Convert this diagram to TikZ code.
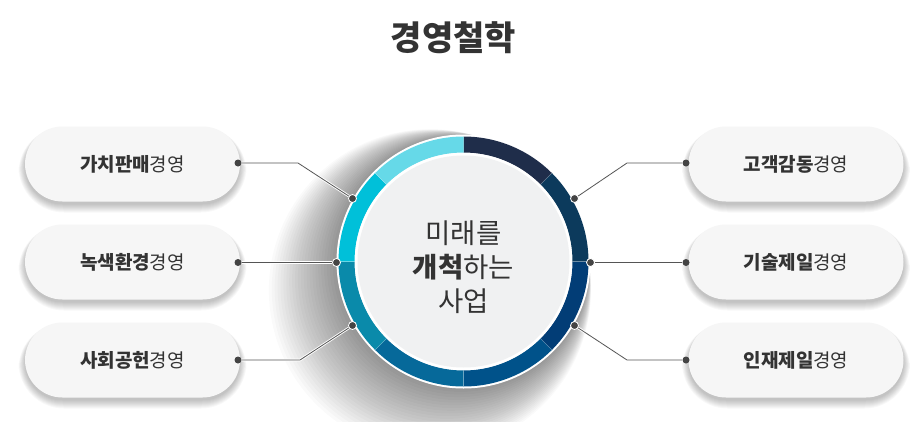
\documentclass[tikz,border=0pt]{standalone}
\usepackage{fontspec}
\setmainfont{Noto Sans CJK KR}
\definecolor{txt}{HTML}{333333}
\definecolor{pillfill}{HTML}{F6F6F6}
\definecolor{core}{HTML}{F0F1F2}
\definecolor{segA}{HTML}{1F2D4A}
\definecolor{segB}{HTML}{0C3A5C}
\definecolor{segC}{HTML}{023D76}
\definecolor{segD}{HTML}{00528A}
\definecolor{segE}{HTML}{06699A}
\definecolor{segF}{HTML}{0A8AAA}
\definecolor{segG}{HTML}{00C0D9}
\definecolor{segH}{HTML}{66D9E8}
\definecolor{dotc}{HTML}{444444}
\definecolor{linec}{HTML}{555555}
\tikzset{
  pill/.style={rectangle, rounded corners=37.5pt, minimum width=215pt, minimum height=75pt,
    fill=pillfill, draw=none, text=txt, font=\fontsize{19}{22}\selectfont},
  dotnode/.style={circle, fill=dotc, draw=white, line width=0.8pt, minimum size=8pt, inner sep=0pt},
  pdot/.style={circle, fill=dotc, minimum size=7pt, inner sep=0pt},
  conn/.style={draw=linec, line width=0.8pt, preaction={draw=white, line width=2.6pt}}
}
\newcommand{\ringseg}[3]{%
  \fill[#3] (463.5,261.5) ++(#1:125) arc[start angle=#1, end angle=#2, radius=125]
    -- ++(#2:-16) arc[start angle=#2, end angle=#1, radius=109] -- cycle;}
\newcommand{\pillshadow}[2]{%
  \foreach \k in {0,1,...,8}{%
    \fill[black, opacity=0.028, rounded corners={37.5pt+\k pt}]
      ({#1-107.5-\k*0.8},{#2-37.5+3-\k*0.3}) rectangle ({#1+107.5+\k*0.8},{#2+37.5+3+\k});}}
\begin{document}
\begin{tikzpicture}[x=1pt,y=-1pt]
\useasboundingbox (0,0) rectangle (922,421);
\fill[white] (0,0) rectangle (922,421);
% title
\node[font=\fontsize{34}{38}\selectfont\bfseries, text=txt] (title) at (453.5,38) {경영철학};
% shadow of the central circle
\foreach \k in {1,2,...,24}{%
  \fill[black, opacity=0.021] ({463.5-1.4*\k},{261.5+1.2*\k}) circle[radius={125+1.5*\k}];}
% central circle
\node[circle, minimum size=254pt, inner sep=0pt, fill=white] (hub) at (463.5,261.5) {};
\ringseg{-90}{-45}{segA}
\ringseg{-45}{0}{segB}
\ringseg{0}{45}{segC}
\ringseg{45}{90}{segD}
\ringseg{90}{135}{segE}
\ringseg{135}{180}{segF}
\ringseg{180}{225}{segG}
\ringseg{225}{270}{segH}
\foreach \a in {-45,0,45,90,135,180,225}{%
  \draw[white, opacity=0.25, line width=0.6pt] (463.5,261.5) ++(\a:109) -- ++(\a:16);}
\fill[white] (463.5,261.5) circle[radius=108.5];
\fill[core] (463.5,261.5) circle[radius=106];
\node[text=txt, align=center, font=\fontsize{27.5}{34}\selectfont] (motto) at (463.5,267)
  {미래를\\{\bfseries 개척}하는\\사업};
% pill shadows
\pillshadow{132.5}{164}
\pillshadow{132.5}{262}
\pillshadow{132.5}{360}
\pillshadow{796}{164}
\pillshadow{796}{262}
\pillshadow{796}{360}
% pills
\node[pill] (vL1) at (132.5,164) {{\bfseries 가치판매}경영};
\node[pill] (vL2) at (132.5,262) {{\bfseries 녹색환경}경영};
\node[pill] (vL3) at (132.5,360) {{\bfseries 사회공헌}경영};
\node[pill] (vR1) at (796,164) {{\bfseries 고객감동}경영};
\node[pill] (vR2) at (796,262) {{\bfseries 기술제일}경영};
\node[pill] (vR3) at (796,360) {{\bfseries 인재제일}경영};
% elbows
\coordinate (eL1) at (298,163);
\coordinate (eL3) at (300,360);
\coordinate (eR1) at (627,163);
\coordinate (eR3) at (627,360);
% dots on circle
\node[dotnode] (cL1) at (352.5,198.5) {};
\node[dotnode] (cL2) at (336.5,262.5) {};
\node[dotnode] (cL3) at (352.5,325.5) {};
\node[dotnode] (cR1) at (574.5,198.5) {};
\node[dotnode] (cR2) at (590.5,262.5) {};
\node[dotnode] (cR3) at (574.5,325.5) {};
% dots on pills
\node[pdot] (pL1) at (238,163) {};
\node[pdot] (pL2) at (238,262.5) {};
\node[pdot] (pL3) at (238,360) {};
\node[pdot] (pR1) at (686,163) {};
\node[pdot] (pR2) at (686,262.5) {};
\node[pdot] (pR3) at (686,360) {};
% connectors
\draw[conn] (cL1) -- (eL1) -- (pL1);
\draw[conn] (cL2) -- (pL2);
\draw[conn] (cL3) -- (eL3) -- (pL3);
\draw[conn] (cR1) -- (eR1) -- (pR1);
\draw[conn] (cR2) -- (pR2);
\draw[conn] (cR3) -- (eR3) -- (pR3);
\end{tikzpicture}
\end{document}
